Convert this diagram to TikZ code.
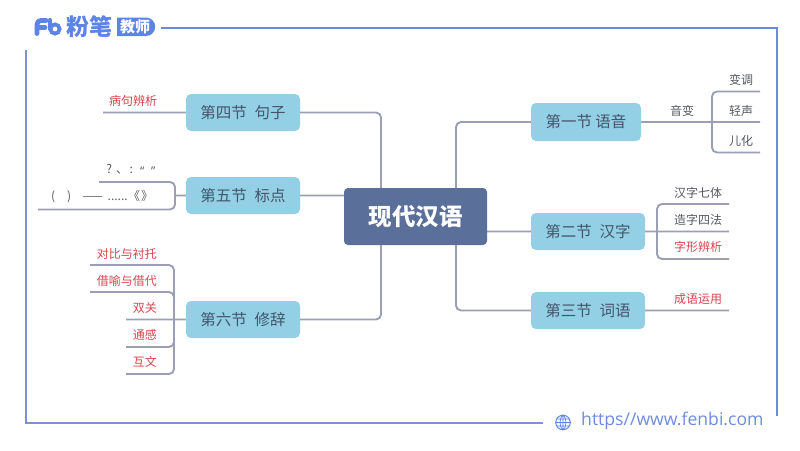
\documentclass[tikz,border=0pt]{standalone}
\usepackage{fontspec}
\setmainfont{Noto Sans CJK SC}
\newfontfamily\latinf{Open Sans}
\pgfdeclarelayer{under}
\pgfsetlayers{under,main}
\definecolor{secfill}{HTML}{93D0E6}
\definecolor{sectext}{HTML}{44546A}
\definecolor{rootfill}{HTML}{5A6F99}
\definecolor{linec}{HTML}{9A9FB3}
\definecolor{redt}{HTML}{D8434F}
\definecolor{greyt}{HTML}{55585F}
\definecolor{blueb}{HTML}{6E8BE0}
\definecolor{brand}{HTML}{5B84E6}
\tikzset{
  x=1pt,y=-1pt,
  rootbox/.style={draw=none,fill=rootfill,rounded corners=4pt,minimum width=143pt,minimum height=57pt,inner sep=0pt,text=white,font=\fontsize{23.5}{26}\selectfont\bfseries},
  secbox/.style={draw=none,fill=secfill,rounded corners=5pt,minimum width=114pt,minimum height=37pt,inner sep=0pt,text=sectext,font=\fontsize{15.5}{18}\selectfont},
  conn/.style={draw=linec,line width=1.9pt,rounded corners=5pt},
  leafg/.style={inner sep=0pt,text=greyt,font=\fontsize{12}{14}\selectfont},
  leafr/.style={inner sep=0pt,text=redt,font=\fontsize{12}{14}\selectfont},
  frameb/.style={draw=blueb,line width=1.8pt},
}
\begin{document}
\begin{tikzpicture}
\useasboundingbox (0,0) rectangle (800,450);
% frame
\coordinate (ftl) at (161,28);
\coordinate (ftr) at (777,28);
\coordinate (fbr) at (777,416);
\coordinate (flt) at (26,50);
\coordinate (flb) at (26,423);
\coordinate (fbe) at (543,423);
\draw[frameb] (ftl) -- (ftr) -- (fbr);
\draw[draw=blueb!70!linec,line width=1.8pt] (flt) -- (flb) -- (fbe);
% logo
\draw[brand,line width=4.8pt,line cap=round,line join=round] (37,33.5) -- (37,24.5) .. controls (37,21.5) and (39,20.5) .. (41,20.5) -- (46,20.5) (37,27.5) -- (45,27.5);
\draw[brand,line width=4.2pt,line cap=round] (50,20) -- (50,29);
\draw[brand,line width=3.8pt] (55,29) circle (4.6pt);
\node[inner sep=0pt,text=brand,font=\fontsize{23}{25}\selectfont\bfseries] (brandn) at (89.5,27) {粉笔};
\fill[brand] (117,17.5) -- (146,17.5) arc[start angle=90,end angle=-90,radius=9.25pt] -- (117,36) -- cycle;
\node[inner sep=0pt,text=white,font=\fontsize{15}{17}\selectfont\bfseries] (brandt) at (135,27) {教师};
% footer
\node[circle,draw=brand,line width=1pt,minimum size=14.5pt,inner sep=0pt] (globe) at (563,422.5) {};
\draw[brand,line width=.7pt] (globe.north) -- (globe.south) (globe.west) -- (globe.east)
  (globe.north) .. controls (559,418) and (559,427) .. (globe.south)
  (globe.north) .. controls (567,418) and (567,427) .. (globe.south)
  (557,419) -- (569,419) (557,426) -- (569,426);
\node[inner sep=0pt,anchor=west,text=blueb,font=\latinf\fontsize{17.6}{20}\selectfont] (url) at (581,421) {https//www.fenbi.com};
% nodes
\node[rootbox] (root) at (415.5,216.5) {现代汉语};
\node[secbox] (s4) at (243,112.5) {第四节\hspace{.5em}句子};
\node[secbox] (s5) at (243,195.5) {第五节\hspace{.5em}标点};
\node[secbox] (s6) at (243,319.5) {第六节\hspace{.5em}修辞};
\node[secbox,minimum width=110pt,minimum height=38pt] (s1) at (586,122) {第一节 语音};
\node[secbox] (s2) at (588,231.5) {第二节\hspace{.5em}汉字};
\node[secbox] (s3) at (588,310.5) {第三节\hspace{.5em}词语};
% root connectors
\coordinate (rl) at (381,188);
\coordinate (rl2) at (381,245);
\coordinate (rr) at (456,188);
\coordinate (rr2) at (456,245);
\draw[conn] (rl) |- (s4.east);
\draw[conn] (rl2) |- (s6.east);
\draw[conn] (rr) |- (s1.west);
\draw[conn] (rr2) |- (s3.west);
% section 4
\coordinate (e4) at (103,112.5);
\node[leafr] (l41) at (133,101) {病句辨析};
% section 5
\coordinate (e51) at (99,182);
\coordinate (e52) at (38,209.5);
\coordinate (b5) at (175,195.5);
\draw[conn] (e51) -| (b5) |- (e52);
\node[leafg,anchor=west] (l51) at (103.5,170) {\makebox[11pt]{?}\makebox[11pt]{\hspace{4pt}、}\makebox[11pt]{:}\makebox[11pt]{\raisebox{-2.5pt}{\latinf “}}\makebox[11pt]{\raisebox{-2.5pt}{\latinf ”}}};
\node[leafg,anchor=west] (l52) at (45,197) {\makebox[16pt]{(}\makebox[16pt]{)}\hspace{5pt}\makebox[21pt]{——}\hspace{6pt}\makebox[17pt]{......}\makebox[16pt]{《}\makebox[10pt]{》}};
% section 6
\coordinate (e61) at (90,265);
\coordinate (e62) at (90,292);
\coordinate (e63) at (126,319.5);
\coordinate (e64) at (126,347);
\coordinate (e65) at (126,374);
\coordinate (b6) at (174,319.5);
\draw[conn] (e61) -| (b6);
\draw[conn] (e65) -| (b6);
\draw[conn] (e62) -| (b6);
\draw[conn] (e64) -| (b6);
\node[leafr,anchor=east] (l61) at (157,254) {对比与衬托};
\node[leafr,anchor=east] (l62) at (157,281) {借喻与借代};
\node[leafr,anchor=east] (l63) at (157,308) {双关};
\node[leafr,anchor=east] (l64) at (157,335) {通感};
\node[leafr,anchor=east] (l65) at (157,362) {互文};
% section 1
\coordinate (e11) at (760,91.5);
\coordinate (e12) at (760,122);
\coordinate (e13) at (760,152.5);
\coordinate (b1) at (712,122);
\draw[conn] (e11) -| (b1);
\draw[conn] (e13) -| (b1);
\node[leafg] (l10) at (682,111) {音变};
\node[leafg] (l11) at (741,80) {变调};
\node[leafg] (l12) at (741,111) {轻声};
\node[leafg] (l13) at (741,141) {儿化};
% section 2
\coordinate (e21) at (729,204);
\coordinate (e22) at (729,231.5);
\coordinate (e23) at (729,259);
\coordinate (b2) at (657,231.5);
\draw[conn] (e21) -| (b2);
\draw[conn] (e23) -| (b2);
\node[leafg] (l21) at (698,193) {汉字七体};
\node[leafg] (l22) at (698,220) {造字四法};
\node[leafr] (l23) at (698,247) {字形辨析};
% section 3
\coordinate (e31) at (729,310.5);
\node[leafr] (l31) at (698,299) {成语运用};
% straight connectors: each starts with a short turn hidden behind its box
\begin{pgfonlayer}{under}
\draw[conn] ([yshift=8pt]s5.center) -- (s5.center) -- (root.center |- s5.center);
\draw[conn] ([yshift=8pt]s2.center) -- (s2.center) -- (root.center |- s2.center);
\draw[conn] ([yshift=8pt]s4.center) -- (s4.center) -- (e4);
\draw[conn] ([yshift=8pt]s5.center) -- (s5.center) -- (b5);
\draw[conn] ([yshift=8pt]s6.center) -- (s6.center) -- (e63);
\draw[conn] ([yshift=8pt]s1.center) -- (s1.center) -- (e12);
\draw[conn] ([yshift=8pt]s2.center) -- (s2.center) -- (e22);
\draw[conn] ([yshift=8pt]s3.center) -- (s3.center) -- (e31);
\end{pgfonlayer}
\end{tikzpicture}
\end{document}
